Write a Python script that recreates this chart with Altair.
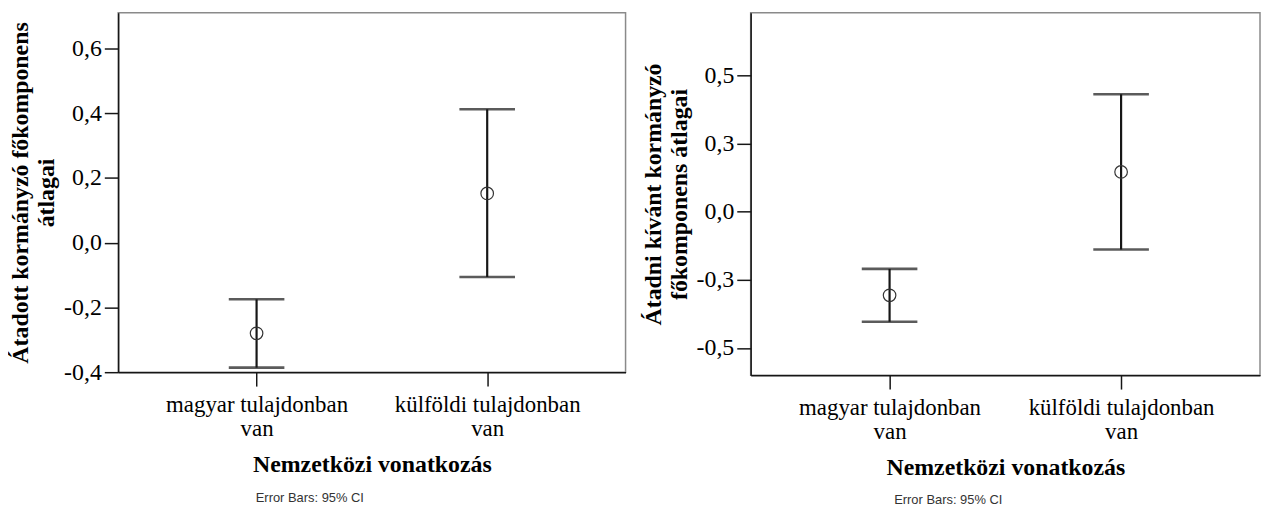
import altair as alt
import pandas as pd

categories = ["magyar tulajdonban van", "külföldi tulajdonban van"]

# Left panel: Átadott kormányzó főkomponens átlagai
left_mean = [-0.280, 0.152]
left_lower = [-0.386, -0.106]
left_upper = [-0.175, 0.412]
left_ticks = [-0.4, -0.2, 0.0, 0.2, 0.4, 0.6]
left_domain = [-0.4, 0.71]
left_title = ["Átadott kormányzó főkomponens", "átlagai"]

# Right panel: Átadni kívánt kormányzó főkomponens átlagai
right_mean = [-0.307, 0.146]
right_lower = [-0.404, -0.139]
right_upper = [-0.210, 0.431]
right_ticks = [-0.5, -0.25, 0.0, 0.25, 0.5]
right_domain = [-0.6, 0.73]
right_title = ["Átadni kívánt kormányzó", "főkomponens átlagai"]

x_title = "Nemzetközi vonatkozás"
footnote = "Error Bars: 95% CI"

SERIF = "Liberation Serif"
INK = "#161616"

label_expr_y = "(datum.value < -1e-9 ? '-' : '') + replace(format(abs(datum.value), '.1f'), '.', ',')"
label_expr_x = "[replace(datum.label, ' van', ''), 'van']"


def panel(means, lowers, uppers, ticks, domain, title, w, h, note_x, note_y):
    df = pd.DataFrame({"cat": categories, "mean": means, "lo": lowers, "hi": uppers})
    x = alt.X("cat:N", sort=categories,
              scale=alt.Scale(type="point", padding=0.6),
              axis=alt.Axis(title=x_title, labelAngle=0, labelExpr=label_expr_x,
                            tickSize=14, labelPadding=8, labelFontSize=23,
                            labelLineHeight=24, labelLimit=400, titlePadding=12))
    y_scale = alt.Scale(domain=domain, nice=False, zero=False)
    y_axis = alt.Axis(title=title, values=ticks, labelExpr=label_expr_y,
                      tickSize=14, labelPadding=3, titlePadding=5, titleLineHeight=26,
                      grid=False)
    base = alt.Chart(df)
    rule = base.mark_rule(color=INK, strokeWidth=2.2).encode(
        x=x, y=alt.Y("lo:Q", scale=y_scale, axis=y_axis), y2="hi:Q")
    cap_lo = base.mark_tick(color=INK, thickness=2.6, size=56).encode(
        x=x, y=alt.Y("lo:Q", scale=y_scale, axis=y_axis))
    cap_hi = base.mark_tick(color=INK, thickness=2.6, size=56).encode(
        x=x, y=alt.Y("hi:Q", scale=y_scale, axis=y_axis))
    pt = base.mark_point(shape="circle", size=160, filled=False, color="#333333",
                         strokeWidth=1.2, opacity=1).encode(
        x=x, y=alt.Y("mean:Q", scale=y_scale, axis=y_axis))
    note = alt.Chart(pd.DataFrame({"t": [footnote]})).mark_text(
        font="Liberation Sans Narrow, Arial Narrow, Liberation Sans", fontSize=13,
        color="#333333", align="center", baseline="middle").encode(
        text="t:N", x=alt.value(note_x), y=alt.value(note_y))
    return alt.layer(rule, cap_lo, cap_hi, pt, note).properties(width=w, height=h)


left = panel(left_mean, left_lower, left_upper, left_ticks, left_domain, left_title,
             511, 362, 193, 489)
right = panel(right_mean, right_lower, right_upper, right_ticks, right_domain, right_title,
              513, 365, 199, 491)

chart = alt.hconcat(left, right, spacing=14).properties(
    padding={"left": 0, "top": 2, "right": 0, "bottom": 0}
).configure_view(
    stroke="#8a8a8a", strokeWidth=1.5
).configure_axis(
    domainColor=INK, domainWidth=1.5, tickColor=INK, tickWidth=1.5,
    labelFont=SERIF, labelFontSize=24, labelColor="black",
    titleFont=SERIF, titleFontSize=24, titleFontWeight="bold", titleColor="black"
)

chart.save("out.html", embed_options={"renderer": "svg", "actions": False})
